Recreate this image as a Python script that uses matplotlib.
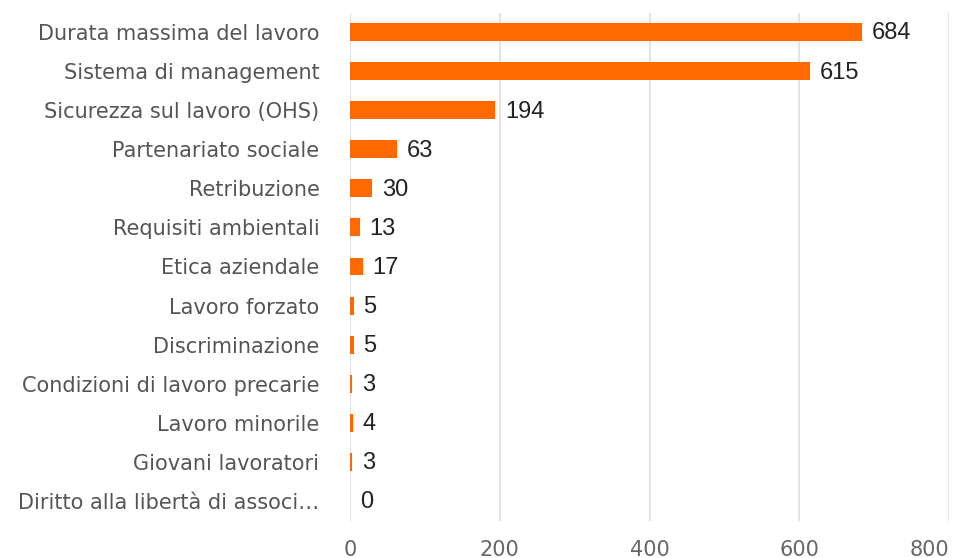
import matplotlib
matplotlib.use("Agg")
import matplotlib.pyplot as plt

categories = [
    "Durata massima del lavoro",
    "Sistema di management",
    "Sicurezza sul lavoro (OHS)",
    "Partenariato sociale",
    "Retribuzione",
    "Requisiti ambientali",
    "Etica aziendale",
    "Lavoro forzato",
    "Discriminazione",
    "Condizioni di lavoro precarie",
    "Lavoro minorile",
    "Giovani lavoratori",
    "Diritto alla libertà di associ…",
]
values = [684, 615, 194, 63, 30, 13, 17, 5, 5, 3, 4, 3, 0]
xticks = [0, 200, 400, 600, 800]

fig = plt.figure(figsize=(9.54, 5.58), dpi=100)
ax = fig.add_axes([350 / 954, 1 - 520.5 / 558, 599 / 954, 508 / 558])

y = list(range(len(categories)))
ax.barh(y, values, height=0.46, color="#FF6A00", zorder=2)
ax.set_ylim(len(categories) - 0.5, -0.5)
ax.set_xlim(0, 800)
ax.set_xticks(xticks)
ax.set_xticklabels([str(t) for t in xticks], fontsize=15, color="#666666",
                   family="DejaVu Sans")
ax.get_xticklabels()[-1].set_horizontalalignment("right")
ax.set_yticks(y)
ax.set_yticklabels(categories, fontsize=15, color="#555555", family="DejaVu Sans")
ax.tick_params(axis="both", length=0)
ax.tick_params(axis="x", pad=14)
ax.tick_params(axis="y", pad=22)
for s in ax.spines.values():
    s.set_visible(False)
ax.grid(axis="x", color="#e3e3e3", linewidth=1.5, zorder=0)
ax.set_axisbelow(True)

for yi, v in zip(y, values):
    ax.annotate(str(v), xy=(v, yi), xytext=(7, -1), textcoords="offset points",
                va="center", ha="left", fontsize=17, color="#222222",
                family="Liberation Sans")

fig.savefig("out.png", dpi=100, facecolor="white")
